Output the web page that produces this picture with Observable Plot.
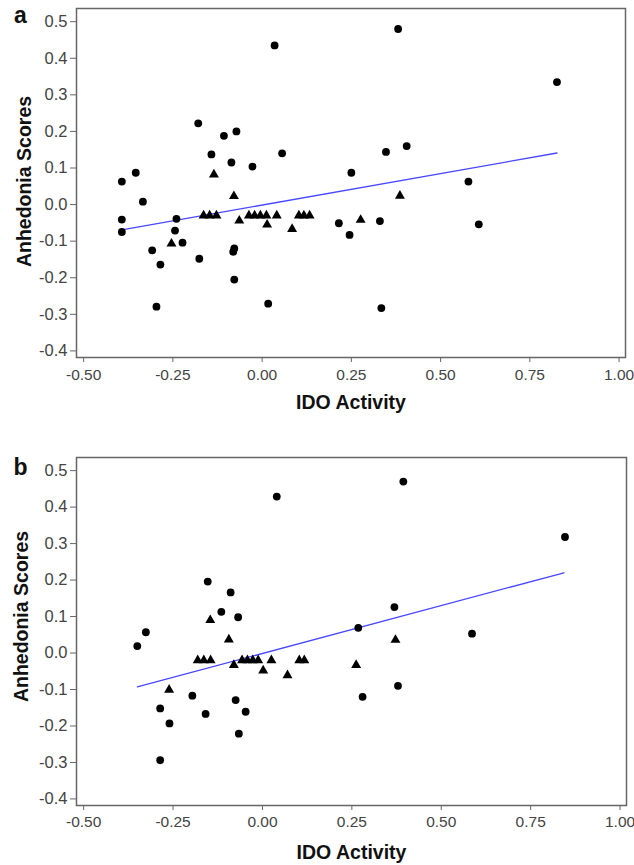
<!DOCTYPE html>
<html>
<head>
<meta charset="utf-8">
<script src="https://cdn.jsdelivr.net/npm/d3@7"></script>
<script src="https://cdn.jsdelivr.net/npm/@observablehq/plot@0.6"></script>
<style>
  html, body { margin: 0; padding: 0; background: #fff; }
  #chart { width: 634px; height: 865px; position: relative; }
  #chart svg { display: block; }
</style>
</head>
<body>
<div id="chart"></div>
<script>
// ---- Data ----
const xTicks = [-0.5, -0.25, 0, 0.25, 0.5, 0.75, 1];
const yTicks = [-0.4, -0.3, -0.2, -0.1, 0, 0.1, 0.2, 0.3, 0.4, 0.5];
const xTitle = "IDO Activity";
const yTitle = "Anhedonia Scores";

// Panel a
const aCircX = [-0.393,-0.393,-0.393,-0.354,-0.334,-0.308,-0.285,-0.296,-0.240,-0.244,-0.223,-0.179,-0.176,-0.142,-0.107,-0.072,-0.086,-0.027,-0.078,-0.081,-0.078,0.035,0.056,0.017,0.381,0.826,0.347,0.405,0.250,0.578,0.215,0.245,0.330,0.607,0.334];
const aCircY = [0.063,-0.041,-0.075,0.087,0.008,-0.125,-0.164,-0.279,-0.039,-0.071,-0.104,0.222,-0.148,0.137,0.188,0.200,0.115,0.104,-0.120,-0.129,-0.205,0.435,0.140,-0.271,0.480,0.335,0.144,0.160,0.087,0.063,-0.051,-0.083,-0.045,-0.054,-0.283];
const aTriX = [-0.254,-0.135,-0.079,-0.164,-0.147,-0.128,-0.064,-0.037,-0.021,-0.005,0.012,0.014,0.041,0.084,0.103,0.117,0.133,0.276,0.386];
const aTriY = [-0.107,0.082,0.023,-0.030,-0.030,-0.030,-0.044,-0.030,-0.030,-0.030,-0.030,-0.055,-0.030,-0.067,-0.030,-0.030,-0.030,-0.042,0.024];
const aFitX = [-0.393, 0.826];
const aFitY = [-0.069, 0.141];

// Panel b
const bCircX = [-0.350,-0.326,-0.286,-0.260,-0.286,-0.196,-0.159,-0.153,-0.115,-0.089,-0.068,-0.075,-0.047,-0.066,0.040,0.394,0.846,0.369,0.268,0.586,0.379,0.280];
const bCircY = [0.019,0.057,-0.152,-0.193,-0.294,-0.117,-0.167,0.196,0.113,0.166,0.098,-0.129,-0.161,-0.221,0.429,0.470,0.318,0.126,0.069,0.053,-0.090,-0.120];
const bTriX = [-0.261,-0.146,-0.094,-0.181,-0.164,-0.145,-0.080,-0.057,-0.042,-0.027,-0.012,0.025,0.002,0.070,0.103,0.117,0.372,0.262];
const bTriY = [-0.101,0.090,0.037,-0.020,-0.020,-0.020,-0.033,-0.020,-0.020,-0.020,-0.020,-0.020,-0.048,-0.061,-0.020,-0.020,0.036,-0.033];
const bFitX = [-0.350, 0.843];
const bFitY = [-0.093, 0.220];

const zip = (xs, ys) => xs.map((x, i) => ({x, y: ys[i]}));

function panel(opts) {
  const {letter, circ, tri, fit, height, mt, mb, mr, letterDy, xTitleDy, yTitleDx, yTitleDy, xTickPad} = opts;
  return Plot.plot({
    width: 634,
    height,
    marginLeft: 76,
    marginRight: mr,
    marginTop: mt,
    marginBottom: mb,
    style: {fontFamily: "'Liberation Sans', Arial, sans-serif", fontSize: "16px", color: "#444", background: "#fff", overflow: "visible"},
    x: {domain: [-0.52, 1.018]},
    y: {domain: [-0.418, 0.536]},
    marks: [
      Plot.axisX({ticks: xTicks, tickFormat: d => d.toFixed(2), tickSize: 5, tickPadding: xTickPad, label: null, stroke: "#666", fontSize: 15.5}),
      Plot.axisY({ticks: yTicks, tickFormat: d => d.toFixed(1), tickSize: 6, tickPadding: 3, label: null, stroke: "#666", fontSize: 16.5}),
      Plot.frame({stroke: "#666", strokeWidth: 1.5}),
      Plot.line(fit, {x: "x", y: "y", stroke: "#4848ff", strokeWidth: 1.3}),
      Plot.dot(circ, {x: "x", y: "y", r: 3.9, fill: "#000", stroke: "none", symbol: "circle"}),
      Plot.dot(tri, {x: "x", y: "y", r: 3.7, fill: "#000", stroke: "none", symbol: "triangle"}),
      Plot.text([xTitle], {frameAnchor: "bottom", dy: xTitleDy, fontWeight: "bold", fontSize: 19.5, fill: "#111", textAnchor: "middle", lineAnchor: "middle"}),
      Plot.text([yTitle], {frameAnchor: "left", rotate: -90, dx: yTitleDx, dy: yTitleDy, fontWeight: "bold", fontSize: 19.5, fill: "#111", textAnchor: "middle", lineAnchor: "middle"}),
      Plot.text([letter], {frameAnchor: "top-left", dx: -56, dy: letterDy, fontWeight: "bold", fontSize: 23, fill: "#111", textAnchor: "middle", lineAnchor: "middle"})
    ]
  });
}

const chart = document.getElementById("chart");
chart.appendChild(panel({
  letter: "a", circ: zip(aCircX, aCircY), tri: zip(aTriX, aTriY), fit: zip(aFitX, aFitY),
  height: 430, mt: 8, mb: 73, mr: 9, letterDy: 7, xTitleDy: 45, yTitleDx: -52, yTitleDy: -1.5, xTickPad: 6
}));
chart.appendChild(panel({
  letter: "b", circ: zip(bCircX, bCircY), tri: zip(bTriX, bTriY), fit: zip(bFitX, bFitY),
  height: 435, mt: 27, mb: 60, mr: 8, letterDy: 10, xTitleDy: 47, yTitleDx: -55, yTitleDy: -15, xTickPad: 5
}));
</script>
</body>
</html>
